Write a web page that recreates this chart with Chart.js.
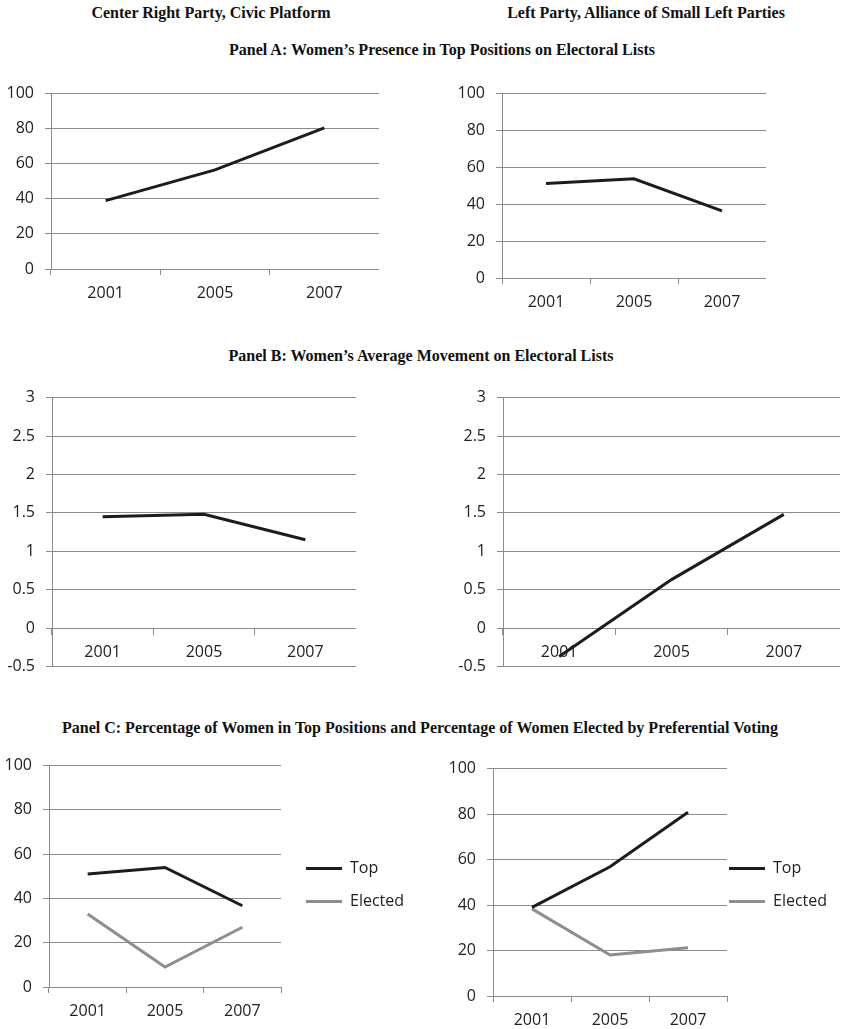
<!DOCTYPE html>
<html><head><meta charset="utf-8">
<script src="https://cdn.jsdelivr.net/npm/chart.js@4.4.1/dist/chart.umd.min.js"></script>
<style>
html,body{margin:0;padding:0;background:#fff;overflow:hidden;width:841px;height:1029px;}
.box{position:absolute;}
.t{position:absolute;font-family:"Liberation Serif","Times New Roman",serif;font-weight:bold;font-size:16px;line-height:20px;white-space:nowrap;transform:translateX(-50%);color:#111;}
</style></head><body>
<div class="t" style="left:211px;top:3px">Center Right Party, Civic Platform</div>
<div class="t" style="left:646px;top:3px">Left Party, Alliance of Small Left Parties</div>
<div class="t" style="left:442px;top:40px">Panel A: Women’s Presence in Top Positions on Electoral Lists</div>
<div class="t" style="left:421px;top:346px">Panel B: Women’s Average Movement on Electoral Lists</div>
<div class="t" style="left:420px;top:718px">Panel C: Percentage of Women in Top Positions and Percentage of Women Elected by Preferential Voting</div>

<div class="box" style="left:5px;top:73px;width:374px;height:229px"><canvas id="a1"></canvas></div>
<div class="box" style="left:456px;top:73px;width:310px;height:238px"><canvas id="a2"></canvas></div>
<div class="box" style="left:6px;top:377px;width:350px;height:310px"><canvas id="b1"></canvas></div>
<div class="box" style="left:457px;top:377px;width:383px;height:310px"><canvas id="b2"></canvas></div>
<div class="box" style="left:3px;top:745px;width:438px;height:275px"><canvas id="c1"></canvas></div>
<div class="box" style="left:447px;top:748px;width:394px;height:281px"><canvas id="c2"></canvas></div>

<script>
// ---- data ----
const years = ['2001', '2005', '2007'];
const pctTicks = [0, 20, 40, 60, 80, 100];
const moveTicks = [-0.5, 0, 0.5, 1, 1.5, 2, 2.5, 3];
const legendNames = ['Top', 'Elected'];

const civicTop = [39, 56.5, 80.5];
const leftTop = [51.2, 53.8, 36.4];
const civicMove = [1.45, 1.48, 1.15];
const leftMove = [-0.37, 0.63, 1.48];
const cLeftTop = [51, 54, 36.7];
const cLeftElected = [33, 9, 27];
const cRightTop = [39, 56.8, 80.8];
const cRightElected = [38.3, 18, 21.2];

// ---- styles ----
const TOP_COLOR = '#1c1c1c';
const ELECTED_COLOR = '#8e8e8e';
const GRID = '#8c8c8c';
const TEXT = '#222';
const FONT = {family: "'Open Sans', sans-serif", size: 16};

const legendShift = {
  id: 'legendShift',
  afterLayout(chart, args, o) {
    const l = chart.legend;
    if (!l || !o) return;
    const dx = o.dx || 0, dy = o.dy || 0;
    l.left += dx; l.right += dx + 80; l.width += 80; l.top += dy; l.bottom += dy;
  }
};

function ds(label, data, color) {
  return {label, data, borderColor: color, backgroundColor: color, borderWidth: 3,
    pointRadius: 0, pointHoverRadius: 0, tension: 0, fill: false};
}

function makeChart(id, datasets, cfg) {
  const tickArr = cfg.ticks;
  const opts = {
    responsive: true, maintainAspectRatio: false, animation: false,
    layout: {padding: {top: 14, bottom: cfg.axisAtZero ? 14 : 0, left: 0, right: cfg.padRight || 0}},
    plugins: {
      tooltip: {enabled: false},
      legend: cfg.legend ? {
        display: true, position: 'right', align: 'center', maxWidth: 100,
        labels: {usePointStyle: true, pointStyle: 'line', pointStyleWidth: 36, padding: 17,
          color: TEXT, font: FONT}
      } : {display: false},
      legendShift: cfg.shift || {dx: 0, dy: 0}
    },
    scales: {
      x: {
        type: 'category', offset: true,
        position: cfg.axisAtZero ? {y: 0} : 'bottom',
        afterFit(s) { s.height = 33; },
        ticks: {padding: 9, color: TEXT, font: FONT, maxRotation: 0, autoSkip: false},
        grid: {display: true, drawOnChartArea: false, drawTicks: true, tickLength: 6, offset: true, color: GRID},
        border: {display: true, color: GRID, width: 1}
      },
      y: {
        min: tickArr[0], max: tickArr[tickArr.length - 1],
        afterFit(s) { s.width = 46; },
        afterBuildTicks(s) { s.ticks = tickArr.map(v => ({value: v})); },
        ticks: {padding: 11, color: TEXT, font: FONT, callback: v => String(v)},
        grid: {color: GRID, lineWidth: 1, tickLength: 6, drawTicks: true},
        border: {display: true, color: GRID, width: 1}
      }
    }
  };
  return new Chart(document.getElementById(id), {
    type: 'line',
    data: {labels: years, datasets},
    options: opts,
    plugins: [legendShift]
  });
}

makeChart('a1', [ds(legendNames[0], civicTop, TOP_COLOR)], {ticks: pctTicks});
makeChart('a2', [ds(legendNames[0], leftTop, TOP_COLOR)], {ticks: pctTicks});
makeChart('b1', [ds(legendNames[0], civicMove, TOP_COLOR)], {ticks: moveTicks, axisAtZero: true});
makeChart('b2', [ds(legendNames[0], leftMove, TOP_COLOR)], {ticks: moveTicks, axisAtZero: true});
makeChart('c1', [ds(legendNames[0], cLeftTop, TOP_COLOR), ds(legendNames[1], cLeftElected, ELECTED_COLOR)],
  {ticks: pctTicks, legend: true, padRight: 60, shift: {dx: 8, dy: -4.5}});
makeChart('c2', [ds(legendNames[0], cRightTop, TOP_COLOR), ds(legendNames[1], cRightElected, ELECTED_COLOR)],
  {ticks: pctTicks, legend: true, padRight: 14, shift: {dx: -15, dy: -10.5}});
</script>
</body></html>
